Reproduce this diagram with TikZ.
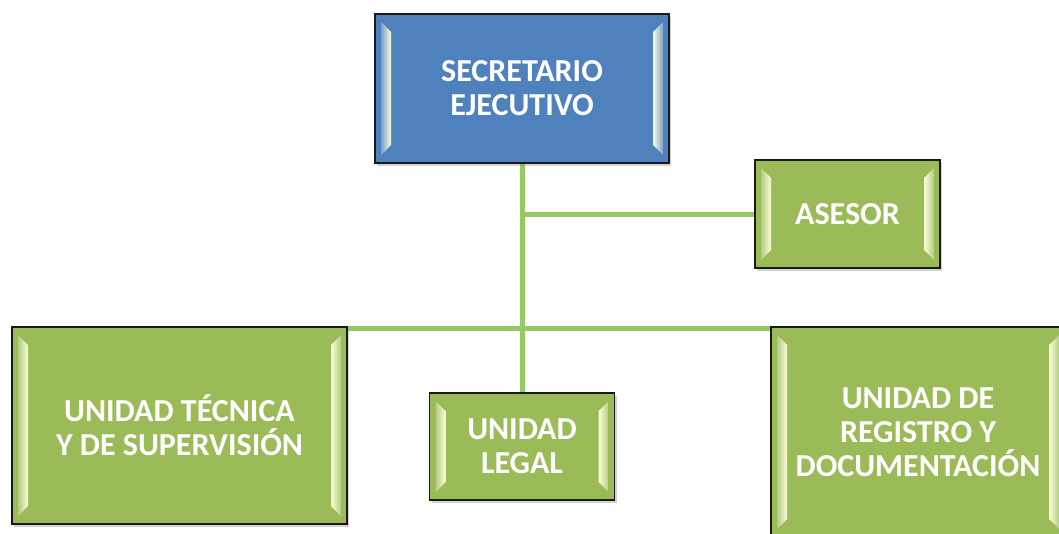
\documentclass[tikz,border=0pt]{standalone}
\usepackage{fontspec}
\setmainfont{Carlito}
\usetikzlibrary{shadows,backgrounds}
\definecolor{blueC}{RGB}{79,129,189}
\definecolor{greenC}{RGB}{155,187,89}
\definecolor{lineC}{RGB}{150,200,100}
\definecolor{hiC}{RGB}{250,255,215}
\tikzset{
  bevel/.style={path picture={
    \coordinate (bnw) at (path picture bounding box.north west);
    \coordinate (bse) at (path picture bounding box.south east);
    \coordinate (bne) at (bse |- bnw);
    \coordinate (bsw) at (bnw |- bse);
    \shade[left color=#1!75!white, right color=hiC]
      ([xshift=6pt,yshift=-8pt]bnw) -- ([xshift=16pt,yshift=-18pt]bnw) --
      ([xshift=16pt,yshift=18pt]bsw) -- ([xshift=6pt,yshift=8pt]bsw) -- cycle;
    \shade[right color=#1!75!white, left color=hiC]
      ([xshift=-6pt,yshift=-8pt]bne) -- ([xshift=-16pt,yshift=-18pt]bne) --
      ([xshift=-16pt,yshift=18pt]bse) -- ([xshift=-6pt,yshift=8pt]bse) -- cycle;
  }},
  orgbox/.style={draw=black!90, line width=1.6pt, text=white, align=center, inner sep=0pt,
    font=\bfseries\fontsize{32}{34}\selectfont,
    drop shadow={opacity=0.35, shadow xshift=2pt, shadow yshift=-3pt}},
  bluebox/.style={orgbox, fill=blueC, bevel=blueC},
  greenbox/.style={orgbox, fill=greenC, bevel=greenC},
  conn/.style={draw=lineC, line width=5pt}
}
\begin{document}
\begin{tikzpicture}[x=1pt,y=-1pt]
\useasboundingbox (0,0) rectangle (1059,533);
\begin{scope}
\clip (0,0) rectangle (1059,533);
\node[bluebox, minimum width=294pt, minimum height=149pt] (sec) at (522,88.5) {SECRETARIO\\EJECUTIVO};
\node[greenbox, minimum width=185pt, minimum height=108pt] (ase) at (847.5,214) {ASESOR};
\node[greenbox, minimum width=335pt, minimum height=197pt] (uts) at (179.5,425.5) {UNIDAD TÉCNICA\\Y DE SUPERVISIÓN};
\node[greenbox, minimum width=185pt, minimum height=107pt] (leg) at (522,446.5) {UNIDAD\\LEGAL};
\node[greenbox, minimum width=294pt, minimum height=210pt] (urd) at (918,432) {UNIDAD DE\\REGISTRO Y\\DOCUMENTACIÓN};
\begin{scope}[on background layer]
\draw[conn] (sec.south) -- (leg.north);
\draw[conn] (sec.south |- ase.west) -- (ase.west);
\draw[conn] ([yshift=-2pt]uts.north east) -- ([yshift=-2pt]urd.north west);
\end{scope}
\end{scope}
\end{tikzpicture}
\end{document}
